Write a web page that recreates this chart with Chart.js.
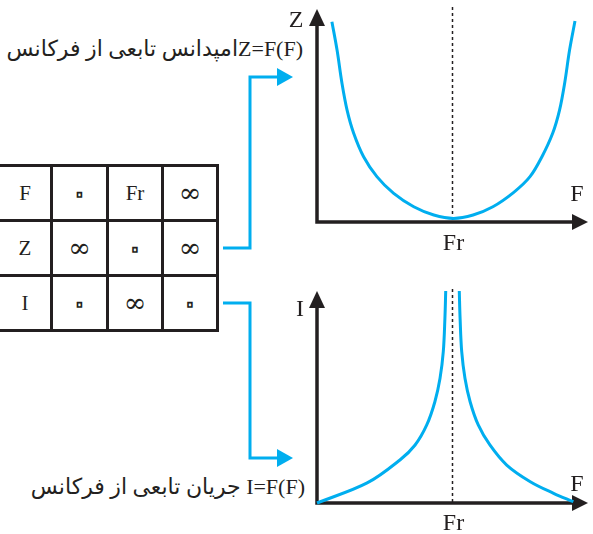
<!DOCTYPE html>
<html>
<head>
<meta charset="utf-8">
<script src="https://cdn.jsdelivr.net/npm/chart.js@4"></script>
<style>
  html, body { margin: 0; padding: 0; background: #fff; }
  body { width: 593px; height: 534px; position: relative; overflow: hidden; }
  .box { position: absolute; }
  .caption {
    position: absolute; white-space: nowrap; direction: rtl; text-align: right;
    font-family: "Liberation Serif", "DejaVu Sans", serif; font-size: 22px; color: #231f20;
  }
  table.grid {
    position: absolute; left: -3px; top: 164px; border-collapse: collapse; table-layout: fixed;
    font-family: "Liberation Serif", "DejaVu Sans", serif; font-size: 21px; color: #231f20;
  }
  table.grid td { border: 3px solid #231f20; height: 52px; text-align: center; padding: 0; line-height: 20px; }
  table.grid td.inf { font-family: "DejaVu Serif", serif; font-size: 27px; }
  table.grid td.zero { font-family: "DejaVu Sans", sans-serif; font-size: 36px; color: transparent;
    -webkit-text-stroke: 1.6px #231f20; }
  svg { position: absolute; left: 0; top: 0; }
</style>
</head>
<body>
<table class="grid" id="grid"></table>
<svg width="593" height="534" id="links"></svg>
<div class="caption" style="right:290px; top:36px;">Z=F(F)امپدانس تابعی از فرکانس</div>
<div class="caption" style="right:288px; top:474px;">I=F(F) جریان تابعی از فرکانس</div>
<div class="box" style="left:280px; top:0px;"><canvas id="z-chart" width="313" height="260"></canvas></div>
<div class="box" style="left:280px; top:280px;"><canvas id="i-chart" width="313" height="254"></canvas></div>
<script>
  // table contents
  const rowHeads = ['F', 'Z', 'I'];
  const fRow = ['۰', 'Fr', '∞'];
  const zRow = ['∞', '۰', '∞'];
  const iRow = ['۰', '∞', '۰'];

  // impedance curve Z(F) (F and Z on 0..100)
  const zFreq = [5.5, 7.4, 9.2, 11.1, 13.5, 17.2, 22.1, 28.3, 35.7, 43.1, 50.4,
                 57.6, 64.9, 72.6, 78.6, 83.0, 87.0, 89.5, 91.4, 93.2, 95.2];
  const zValue = [94.5, 81.1, 65.6, 52.8, 42, 30.8, 21.4, 13.5, 7.2, 3.3, 1.7,
                  3.3, 7.2, 14, 21.4, 30.8, 42, 52.8, 65.6, 81.1, 94.8];

  // current curve I(F), two branches around Fr
  const iFreqLeft = [0, 18.5, 30.6, 36.2, 40.5, 43.5, 45.4, 46.6, 47.2, 47.5];
  const iLeft = [0, 9.5, 20.4, 27.5, 37, 48, 59.1, 71.7, 87.5, 100.5];
  const iFreqRight = [52.5, 52.8, 53.4, 54.6, 56.5, 59.5, 63.8, 70, 78.7, 87.3, 94.6];
  const iRight = [100.5, 87.5, 71.7, 59.1, 48, 37, 27.5, 18, 10.1, 4.6, 0.6];

  const frValue = 50;
  const frLabel = 'Fr';

  const BLUE = '#00aeef';
  const INK = '#231f20';

  // build the table
  const grid = document.getElementById('grid');
  const widths = [53, 56, 55, 55];
  const colgroup = document.createElement('colgroup');
  widths.forEach(w => {
    const c = document.createElement('col');
    c.style.width = w + 'px';
    colgroup.appendChild(c);
  });
  grid.appendChild(colgroup);
  [fRow, zRow, iRow].forEach((row, r) => {
    const tr = document.createElement('tr');
    [rowHeads[r]].concat(row).forEach(v => {
      const td = document.createElement('td');
      td.textContent = v;
      if (v === '∞') td.className = 'inf';
      if (v === '۰') td.className = 'zero';
      tr.appendChild(td);
    });
    grid.appendChild(tr);
  });

  // blue connectors from the table to the charts
  const links = document.getElementById('links');
  links.innerHTML = `
    <polyline points="223,248 250,248 250,77 278,77" fill="none" stroke="${BLUE}" stroke-width="3"/>
    <polygon points="277,68 293,77 277,86" fill="${BLUE}"/>
    <polyline points="223,303 250,303 250,458 278,458" fill="none" stroke="${BLUE}" stroke-width="3"/>
    <polygon points="277,449 293,458 277,467" fill="${BLUE}"/>
  `;

  function toPoints(xs, ys) {
    return xs.map((x, i) => ({ x: x, y: ys[i] }));
  }

  const axesPlugin = {
    id: 'arrowAxes',
    beforeDatasetsDraw: function (chart, args, opts) {
      const ctx = chart.ctx;
      const a = chart.chartArea;
      const fx = chart.scales.x.getPixelForValue(frValue);
      ctx.save();
      // dotted Fr line
      ctx.strokeStyle = INK;
      ctx.lineWidth = 1.5;
      ctx.setLineDash([3, 3]);
      ctx.beginPath();
      ctx.moveTo(fx, a.top - 3);
      ctx.lineTo(fx, a.bottom);
      ctx.stroke();
      ctx.setLineDash([]);
      // axes
      ctx.lineWidth = 3.5;
      ctx.beginPath();
      ctx.moveTo(a.left, a.top + 12);
      ctx.lineTo(a.left, a.bottom);
      ctx.lineTo(a.right - 12, a.bottom);
      ctx.stroke();
      ctx.fillStyle = INK;
      ctx.beginPath();
      ctx.moveTo(a.left, a.top - 1);
      ctx.lineTo(a.left - 8, a.top + 16);
      ctx.lineTo(a.left + 8, a.top + 16);
      ctx.closePath();
      ctx.fill();
      ctx.beginPath();
      ctx.moveTo(a.right, a.bottom);
      ctx.lineTo(a.right - 16, a.bottom - 8);
      ctx.lineTo(a.right - 16, a.bottom + 8);
      ctx.closePath();
      ctx.fill();
      // axis names
      ctx.font = '24px "Liberation Serif", serif';
      ctx.textAlign = 'center';
      ctx.textBaseline = 'middle';
      ctx.fillText(frLabel, fx + 1, a.bottom + opts.frDy);
      ctx.fillText('F', a.right - 11, a.bottom + opts.fDy);
      ctx.fillText(opts.yName, a.left + opts.yNameDx, a.top + opts.yNameDy);
      ctx.restore();
    }
  };

  function lineSet(points) {
    return {
      data: points,
      showLine: true,
      borderColor: BLUE,
      borderWidth: 3,
      pointRadius: 0,
      fill: false,
      tension: 0.35,
      clip: false
    };
  }

  function baseOptions(padding, axisOpts) {
    return {
      responsive: false,
      animation: false,
      events: [],
      layout: { padding: padding },
      scales: {
        x: { type: 'linear', min: 0, max: 100, display: false },
        y: { type: 'linear', min: 0, max: 100, display: false }
      },
      plugins: {
        legend: { display: false },
        tooltip: { enabled: false },
        arrowAxes: axisOpts
      }
    };
  }

  new Chart(document.getElementById('z-chart'), {
    type: 'scatter',
    data: { datasets: [lineSet(toPoints(zFreq, zValue))] },
    options: baseOptions({ left: 37, right: 5, top: 10, bottom: 38 },
      { frDy: 22, fDy: -27, yName: 'Z', yNameDx: -21, yNameDy: 11 }),
    plugins: [axesPlugin]
  });

  new Chart(document.getElementById('i-chart'), {
    type: 'scatter',
    data: { datasets: [lineSet(toPoints(iFreqLeft, iLeft)), lineSet(toPoints(iFreqRight, iRight))] },
    options: baseOptions({ left: 37, right: 5, top: 12, bottom: 31 },
      { frDy: 21, fDy: -18, yName: 'I', yNameDx: -17, yNameDy: 18 }),
    plugins: [axesPlugin]
  });
</script>
</body>
</html>
